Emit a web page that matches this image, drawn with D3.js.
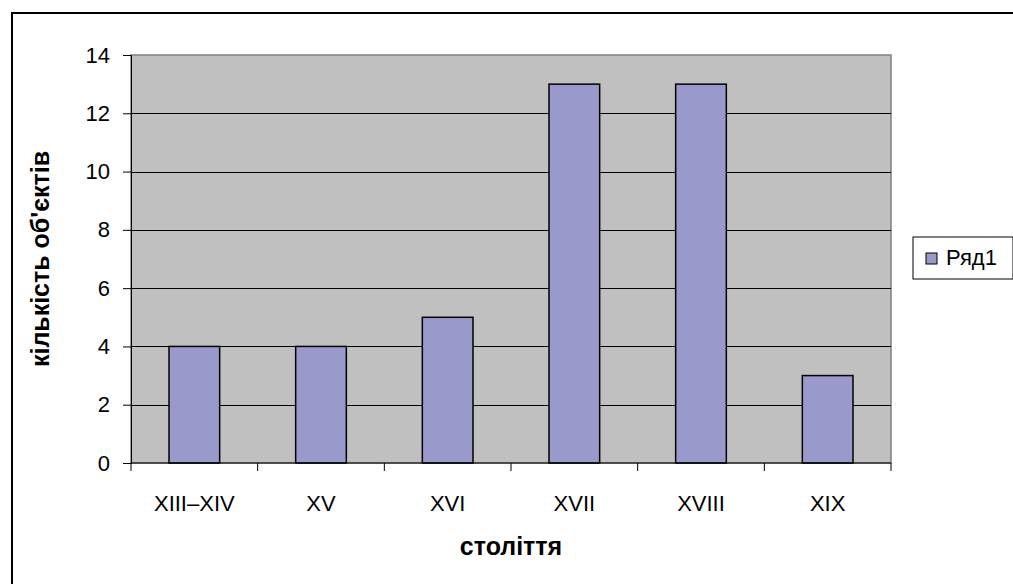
<!DOCTYPE html>
<html>
<head>
<meta charset="utf-8">
<script src="https://d3js.org/d3.v7.min.js"></script>
<style>
  body { margin: 0; background: #fff; }
  text { font-family: "Liberation Sans", Arial, sans-serif; }
</style>
</head>
<body>
<script>
// chart data
var categories = ["XIII–XIV", "XV", "XVI", "XVII", "XVIII", "XIX"];
var values = [4, 4, 5, 13, 13, 3];
var yTicks = [0, 2, 4, 6, 8, 10, 12, 14];
var seriesName = "Ряд1";
var xTitle = "століття";
var yTitle = "кількість об'єктів";

var WIDTH = 1013, HEIGHT = 584;
var PLOT = { left: 131, right: 891, top: 55, bottom: 463 };

var svg = d3.select("body").append("svg")
    .attr("width", WIDTH)
    .attr("height", HEIGHT);

// outer chart border (runs off the right / bottom edge)
svg.append("path")
    .attr("d", "M12,600 L12,13 L1013,13")
    .attr("fill", "none")
    .attr("stroke", "#000")
    .attr("stroke-width", 2);

var xScale = d3.scaleBand()
    .domain(categories)
    .range([PLOT.left, PLOT.right])
    .paddingInner(0.6)
    .paddingOuter(0.3);

var yScale = d3.scaleLinear()
    .domain([0, 14])
    .range([PLOT.bottom, PLOT.top]);

// plot area
svg.append("rect")
    .attr("x", PLOT.left)
    .attr("y", PLOT.top)
    .attr("width", PLOT.right - PLOT.left)
    .attr("height", PLOT.bottom - PLOT.top)
    .attr("fill", "#c0c0c0")
    .attr("stroke", "#808080")
    .attr("stroke-width", 1.5);

// gridlines
svg.append("g")
    .selectAll("line")
    .data(yTicks.filter(function(d) { return d > 0 && d < 14; }))
    .enter().append("line")
    .attr("x1", PLOT.left)
    .attr("x2", PLOT.right)
    .attr("y1", function(d) { return Math.round(yScale(d)) + 0.5; })
    .attr("y2", function(d) { return Math.round(yScale(d)) + 0.5; })
    .attr("stroke", "#000")
    .attr("stroke-width", 1);

// bars
svg.append("g")
    .selectAll("rect")
    .data(values)
    .enter().append("rect")
    .attr("x", function(d, i) { return xScale(categories[i]); })
    .attr("y", function(d) { return yScale(d); })
    .attr("width", xScale.bandwidth())
    .attr("height", function(d) { return PLOT.bottom - yScale(d); })
    .attr("fill", "#9999cc")
    .attr("stroke", "#000")
    .attr("stroke-width", 1.5);

// y axis
var yAxis = d3.axisLeft(yScale).tickValues(yTicks).tickSize(8).tickPadding(13);
var gy = svg.append("g")
    .attr("transform", "translate(" + PLOT.left + ",0)")
    .call(yAxis);
gy.attr("font-size", null).attr("font-family", null);
gy.select(".domain").attr("stroke", "#000");
gy.selectAll("line").attr("stroke", "#000");
gy.selectAll("text")
    .style("font-size", "22px")
    .attr("fill", "#000");

// x axis: ticks sit between categories
var xEdges = d3.scaleLinear().domain([0, categories.length]).range([PLOT.left, PLOT.right]);
var gx = svg.append("g");
gx.append("line")
    .attr("x1", PLOT.left).attr("x2", PLOT.right)
    .attr("y1", PLOT.bottom).attr("y2", PLOT.bottom)
    .attr("stroke", "#000");
gx.selectAll(".tick")
    .data(d3.range(categories.length + 1))
    .enter().append("line")
    .attr("x1", function(d) { return xEdges(d); })
    .attr("x2", function(d) { return xEdges(d); })
    .attr("y1", PLOT.bottom)
    .attr("y2", PLOT.bottom + 8)
    .attr("stroke", "#000");
gx.selectAll("text")
    .data(categories)
    .enter().append("text")
    .attr("x", function(d) { return xScale(d) + xScale.bandwidth() / 2; })
    .attr("y", 511)
    .attr("text-anchor", "middle")
    .style("font-size", "22px")
    .text(function(d) { return d; });

// axis titles
svg.append("text")
    .attr("x", (PLOT.left + PLOT.right) / 2)
    .attr("y", 555)
    .attr("text-anchor", "middle")
    .style("font-size", "25px")
    .attr("font-weight", "bold")
    .text(xTitle);

svg.append("text")
    .attr("transform", "translate(49," + ((PLOT.top + PLOT.bottom) / 2) + ") rotate(-90)")
    .attr("text-anchor", "middle")
    .style("font-size", "25px")
    .attr("font-weight", "bold")
    .text(yTitle);

// legend
var legend = svg.append("g").attr("transform", "translate(913,237)");
legend.append("rect")
    .attr("width", 100)
    .attr("height", 42)
    .attr("fill", "#fff")
    .attr("stroke", "#000")
    .attr("stroke-width", 1);
legend.append("rect")
    .attr("x", 13).attr("y", 16)
    .attr("width", 11).attr("height", 11)
    .attr("fill", "#9999cc")
    .attr("stroke", "#000");
legend.append("text")
    .attr("x", 33).attr("y", 28)
    .style("font-size", "22px")
    .text(seriesName);
</script>
</body>
</html>
